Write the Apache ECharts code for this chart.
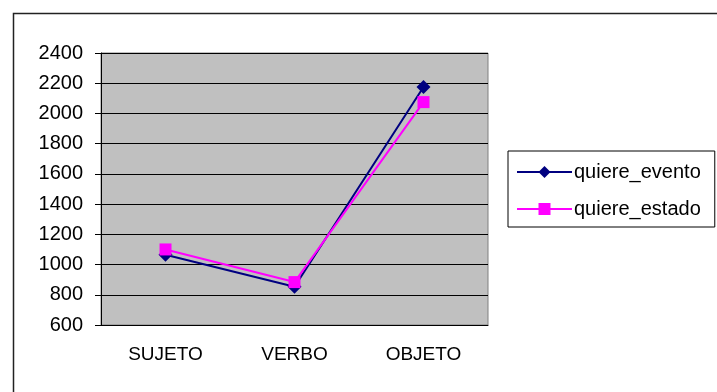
<!DOCTYPE html>
<html>
<head>
<meta charset="utf-8">
<script src="https://cdn.jsdelivr.net/npm/echarts@6/dist/echarts.min.js"></script>
<style>
  html, body { margin: 0; padding: 0; background: #fff; }
  #main { width: 717px; height: 392px; }
</style>
</head>
<body>
<div id="main"></div>
<script>
var categories = ['SUJETO', 'VERBO', 'OBJETO'];
var eventoValues = [1065, 853, 2175];
var estadoValues = [1100, 884, 2075];
var yTicks = { min: 600, max: 2400, step: 200 };

var myChart = echarts.init(document.getElementById('main'));

var font = 'Liberation Sans, Arial, sans-serif';

var option = {
    animation: false,
    backgroundColor: '#fff',
    graphic: [{
        type: 'rect',
        shape: { x: 13.5, y: 13.5, width: 720, height: 400 },
        style: { fill: 'none', stroke: '#222', lineWidth: 1.5 },
        silent: true
    }],
    grid: {
        left: 101,
        top: 53,
        width: 387,
        height: 272,
        show: true,
        backgroundColor: '#c0c0c0',
        borderColor: '#808080',
        borderWidth: 1
    },
    legend: {
        orient: 'vertical',
        left: 508,
        top: 151,
        padding: [11, 14, 8, 8],
        itemWidth: 55,
        itemHeight: 15,
        itemGap: 17,
        borderColor: '#000',
        borderWidth: 1,
        textStyle: { fontFamily: font, fontSize: 20, color: '#000', padding: [0, 0, 0, -3] },
        data: ['quiere_evento', 'quiere_estado']
    },
    xAxis: {
        type: 'category',
        data: categories,
        axisLine: { lineStyle: { color: '#000', width: 1 } },
        axisTick: { length: 6, lineStyle: { color: '#000' } },
        axisLabel: { fontFamily: font, fontSize: 19, color: '#000', margin: 20 },
        splitLine: { show: false }
    },
    yAxis: {
        type: 'value',
        min: yTicks.min,
        max: yTicks.max,
        interval: yTicks.step,
        axisLine: { show: true, lineStyle: { color: '#000', width: 1 } },
        axisTick: { show: true, length: 6, lineStyle: { color: '#000' } },
        axisLabel: {
            fontFamily: font, fontSize: 20, color: '#000', margin: 18,
            formatter: function (v) { return String(v); }
        },
        splitLine: { show: true, lineStyle: { color: '#000', width: 1 } }
    },
    series: [{
        name: 'quiere_evento',
        type: 'line',
        data: eventoValues,
        symbol: 'diamond',
        symbolSize: 14,
        color: '#000080',
        lineStyle: { width: 2, color: '#000080' },
        itemStyle: { color: '#000080' }
    }, {
        name: 'quiere_estado',
        type: 'line',
        data: estadoValues,
        symbol: 'rect',
        symbolSize: 12,
        color: '#ff00ff',
        lineStyle: { width: 2, color: '#ff00ff' },
        itemStyle: { color: '#ff00ff' }
    }]
};

myChart.setOption(option);
</script>
</body>
</html>
